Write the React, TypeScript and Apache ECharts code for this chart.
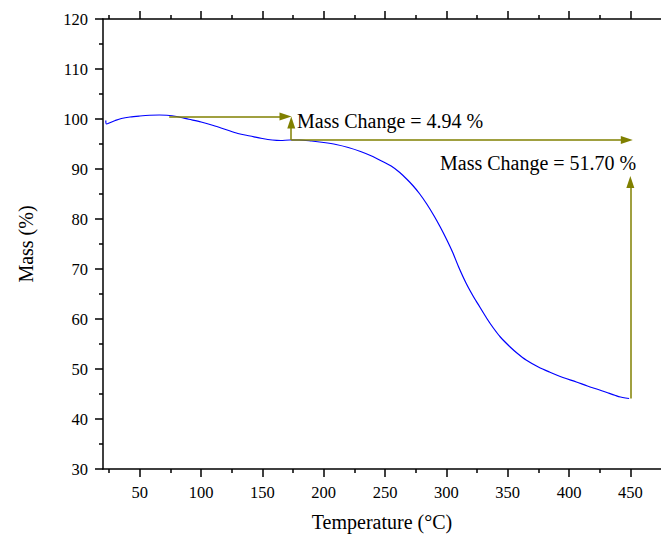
import React, { useEffect, useRef } from "react";
import * as echarts from "echarts";

// Thermogravimetric curve (Temperature °C -> Mass %)
const temperature = [
  22.3, 22.8, 26, 30, 35, 42, 50, 58, 66, 72, 80, 90, 100, 110, 120, 130, 140,
  150, 158, 165, 172, 180, 190, 200, 210, 220, 230, 240, 248, 255, 262, 268,
  273, 278, 284, 290, 295, 300, 305, 310, 316, 322, 327, 333, 338, 344, 352,
  358, 365, 375, 384, 395, 406, 415, 425, 432, 438, 442, 446, 449,
];
const mass = [
  99.7, 99.0, 99.3, 99.7, 100.1, 100.4, 100.6, 100.75, 100.8, 100.75, 100.5,
  99.95, 99.4, 98.7, 97.9, 97.1, 96.6, 96.1, 95.8, 95.7, 95.8, 95.8, 95.6,
  95.3, 94.9, 94.3, 93.5, 92.5, 91.5, 90.6, 89.3, 87.9, 86.6, 85.1, 83.0,
  80.6, 78.4, 76.0, 73.4, 70.4, 67.2, 64.5, 62.5, 60.1, 58.3, 56.4, 54.4,
  53.1, 51.8, 50.4, 49.4, 48.3, 47.4, 46.6, 45.8, 45.2, 44.7, 44.4, 44.2,
  44.1,
];

// Axis ranges and ticks
const xMin = 20;
const xMax = 475;
const xMajorTicks = [50, 100, 150, 200, 250, 300, 350, 400, 450];
const xMinorTicks = [25, 75, 125, 175, 225, 275, 325, 375, 425];
const yMin = 30;
const yMax = 120;
const yInterval = 10;

// Annotation arrows: [start, end] in data coordinates (end carries the head)
const arrowSegments: [number[], number[]][] = [
  [[74, 100.5], [168.8, 100.5]],
  [[173.5, 95.8], [173.5, 99.3]],
  [[173.5, 95.8], [447.1, 95.8]],
  [[450, 44.1], [450, 87.4]],
];
const annotationTexts = ["Mass Change = 4.94 %", "Mass Change = 51.70 %"];

const FONT = "Liberation Serif";

export default function App() {
  const ref = useRef<HTMLDivElement>(null);

  useEffect(() => {
    if (!ref.current) return;
    const chart = echarts.init(ref.current, undefined, { renderer: "svg" });
    const axisLineStyle = { color: "#000", width: 1.5 };
    const baseX = {
      type: "value" as const,
      min: xMin,
      max: xMax,
      splitLine: { show: false },
      axisLine: { show: false, onZero: false, lineStyle: axisLineStyle },
      axisLabel: { show: false },
    };
    const data = temperature.map((t, i) => [t, mass[i]]);

    chart.setOption({
      animation: false,
      backgroundColor: "#fff",
      textStyle: { fontFamily: FONT },
      grid: { left: 103, right: 0, top: 19, bottom: 71 },
      xAxis: [
        {
          ...baseX,
          position: "bottom",
          name: "Temperature (°C)",
          nameLocation: "middle",
          nameGap: 43,
          nameTextStyle: { fontSize: 20, color: "#000", fontFamily: FONT },
          axisLine: { show: true, onZero: false, lineStyle: axisLineStyle },
          axisTick: {
            show: true,
            length: 8,
            customValues: xMajorTicks,
            lineStyle: axisLineStyle,
          },
          axisLabel: {
            show: true,
            customValues: xMajorTicks,
            margin: 15,
            fontSize: 16.5,
            color: "#000",
            fontFamily: FONT,
          },
        },
        {
          ...baseX,
          position: "bottom",
          axisTick: {
            show: true,
            length: 4,
            customValues: xMinorTicks,
            lineStyle: axisLineStyle,
          },
        },
        {
          ...baseX,
          position: "top",
          axisLine: { show: true, onZero: false, lineStyle: axisLineStyle },
          axisTick: {
            show: true,
            length: 8,
            customValues: xMajorTicks,
            lineStyle: axisLineStyle,
          },
        },
        {
          ...baseX,
          position: "top",
          axisTick: {
            show: true,
            length: 4,
            customValues: xMinorTicks,
            lineStyle: axisLineStyle,
          },
        },
      ],
      yAxis: {
        type: "value",
        min: yMin,
        max: yMax,
        interval: yInterval,
        name: "Mass (%)",
        nameLocation: "middle",
        nameGap: 67,
        nameTextStyle: { fontSize: 20, color: "#000", fontFamily: FONT },
        splitLine: { show: false },
        axisLine: { show: true, onZero: false, lineStyle: axisLineStyle },
        axisTick: { show: true, length: 8, lineStyle: axisLineStyle },
        minorTick: { show: true, splitNumber: 2, length: 4, lineStyle: axisLineStyle },
        axisLabel: { margin: 15, fontSize: 16.5, color: "#000", fontFamily: FONT },
      },
      series: [
        {
          type: "line",
          xAxisIndex: 0,
          data,
          showSymbol: false,
          smooth: 0.3,
          lineStyle: { color: "#0000ff", width: 1.2 },
          itemStyle: { color: "#0000ff" },
          markLine: {
            silent: true,
            symbol: ["none", "triangle"],
            symbolSize: [8, 12],
            label: { show: false },
            lineStyle: { color: "#808000", width: 1.5, type: "solid" },
            itemStyle: { color: "#808000" },
            data: arrowSegments.map(([a, b]) => [{ coord: a }, { coord: b }]),
          },
        },
      ],
      graphic: [
        {
          type: "text",
          x: 297,
          y: 121,
          style: {
            text: annotationTexts[0],
            fontSize: 20,
            fontFamily: FONT,
            fill: "#000",
            align: "left",
            verticalAlign: "middle",
          },
        },
        {
          type: "text",
          x: 440,
          y: 163,
          style: {
            text: annotationTexts[1],
            fontSize: 20,
            fontFamily: FONT,
            fill: "#000",
            align: "left",
            verticalAlign: "middle",
          },
        },
      ],
    });
    return () => chart.dispose();
  }, []);

  return (
    <div
      ref={ref}
      style={{ position: "fixed", left: 0, top: 0, width: 661, height: 540 }}
    />
  );
}
